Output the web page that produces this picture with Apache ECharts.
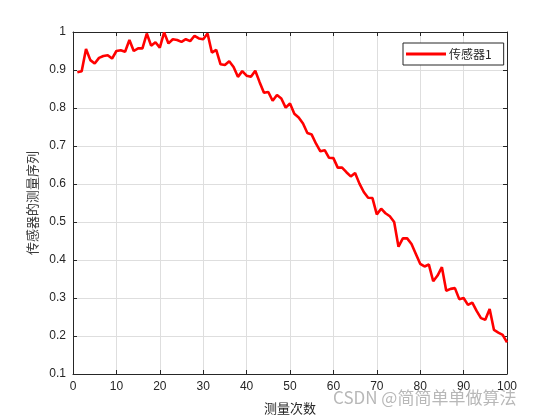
<!DOCTYPE html>
<html>
<head>
<meta charset="utf-8">
<script src="https://cdn.jsdelivr.net/npm/echarts@6/dist/echarts.min.js"></script>
<style>html,body{margin:0;padding:0;background:#fff;}#c{width:560px;height:420px;}</style>
</head>
<body>
<div id="c"></div>
<script>
const xValues = [1,2,3,4,5,6,7,8,9,10,11,12,13,14,15,16,17,18,19,20,
  21,22,23,24,25,26,27,28,29,30,31,32,33,34,35,36,37,38,39,40,
  41,42,43,44,45,46,47,48,49,50,51,52,53,54,55,56,57,58,59,60,
  61,62,63,64,65,66,67,68,69,70,71,72,73,74,75,76,77,78,79,80,
  81,82,83,84,85,86,87,88,89,90,91,92,93,94,95,96,97,98,99,100];
const sensor1 = [0.894,0.897,0.955,0.926,0.917,0.932,0.937,0.939,0.930,0.950,
  0.952,0.948,0.979,0.950,0.957,0.957,0.996,0.964,0.973,0.959,
  0.999,0.970,0.981,0.979,0.974,0.981,0.976,0.990,0.983,0.981,
  0.996,0.946,0.953,0.915,0.913,0.923,0.908,0.882,0.897,0.885,
  0.882,0.898,0.868,0.840,0.842,0.819,0.834,0.825,0.801,0.812,
  0.785,0.775,0.759,0.734,0.730,0.706,0.686,0.689,0.669,0.668,
  0.643,0.643,0.631,0.620,0.629,0.601,0.579,0.564,0.563,0.520,
  0.535,0.523,0.515,0.500,0.435,0.457,0.457,0.442,0.416,0.390,
  0.383,0.388,0.344,0.359,0.381,0.319,0.324,0.326,0.297,0.300,
  0.282,0.288,0.266,0.247,0.243,0.271,0.216,0.209,0.203,0.183];
const seriesName = '传感器1';
const xLabel = '测量次数';
const yLabel = '传感器的测量序列';

const chart = echarts.init(document.getElementById('c'), null, {renderer: 'canvas'});
const axisCol = '#262626';
const gridCol = '#dedede';
const lblFont = {color: axisCol, fontSize: 12, fontFamily: 'Liberation Sans, Arial, sans-serif'};
chart.setOption({
  animation: false,
  backgroundColor: '#ffffff',
  grid: {left: 73, right: 53, top: 32, bottom: 46, containLabel: false},
  legend: {
    data: [seriesName],
    left: 403, top: 43,
    orient: 'vertical',
    itemWidth: 40, itemHeight: 3,
    icon: 'rect',
    itemGap: 0,
    padding: [5, 12, 5, 3],
    borderColor: axisCol, borderWidth: 1, borderRadius: 0,
    backgroundColor: '#ffffff',
    textStyle: {color: axisCol, fontSize: 12, fontFamily: 'Noto Sans CJK SC, sans-serif', padding: [0,0,0,-2]}
  },
  xAxis: [{
    type: 'value', min: 0, max: 100, interval: 10, position: 'bottom',
    name: xLabel, nameLocation: 'middle', nameGap: 28,
    nameTextStyle: {color: axisCol, fontSize: 13, fontFamily: 'Noto Sans CJK SC, sans-serif'},
    axisLine: {show: true, onZero: false, lineStyle: {color: axisCol, width: 1}},
    axisTick: {show: true, inside: true, length: 4, lineStyle: {color: axisCol}},
    axisLabel: Object.assign({margin: 7}, lblFont),
    splitLine: {show: true, lineStyle: {color: gridCol, width: 1}}
  }, {
    type: 'value', min: 0, max: 100, interval: 10, position: 'top',
    axisLine: {show: true, onZero: false, lineStyle: {color: axisCol, width: 1}},
    axisTick: {show: true, inside: true, length: 4, lineStyle: {color: axisCol}},
    axisLabel: {show: false}, splitLine: {show: false}
  }],
  yAxis: [{
    type: 'value', min: 0.1, max: 1, interval: 0.1, position: 'left',
    name: yLabel, nameLocation: 'middle', nameGap: 32, nameRotate: 90,
    nameTextStyle: {color: '#3a3a3a', fontSize: 13, fontFamily: 'Noto Sans CJK SC, sans-serif'},
    axisLine: {show: true, onZero: false, lineStyle: {color: axisCol, width: 1}},
    axisTick: {show: true, inside: true, length: 4, lineStyle: {color: axisCol}},
    axisLabel: Object.assign({margin: 7, formatter: v => (Math.round(v*10)/10).toString()}, lblFont),
    splitLine: {show: true, lineStyle: {color: gridCol, width: 1}}
  }, {
    type: 'value', min: 0.1, max: 1, interval: 0.1, position: 'right',
    axisLine: {show: true, onZero: false, lineStyle: {color: axisCol, width: 1}},
    axisTick: {show: true, inside: true, length: 4, lineStyle: {color: axisCol}},
    axisLabel: {show: false}, splitLine: {show: false}
  }],
  series: [{
    name: seriesName,
    type: 'line',
    data: xValues.map((x, i) => [x, sensor1[i]]),
    showSymbol: false, symbol: 'none',
    lineStyle: {color: '#ff0000', width: 2.6},
    itemStyle: {color: '#ff0000'},
    clip: false
  }],
  graphic: [{
    type: 'text', left: 333, top: 389,
    style: {text: 'CSDN @简简单单做算法', fill: '#b8b8b8', fontSize: 17, fontFamily: 'Noto Sans CJK SC, sans-serif'}
  }]
});
</script>
</body>
</html>
